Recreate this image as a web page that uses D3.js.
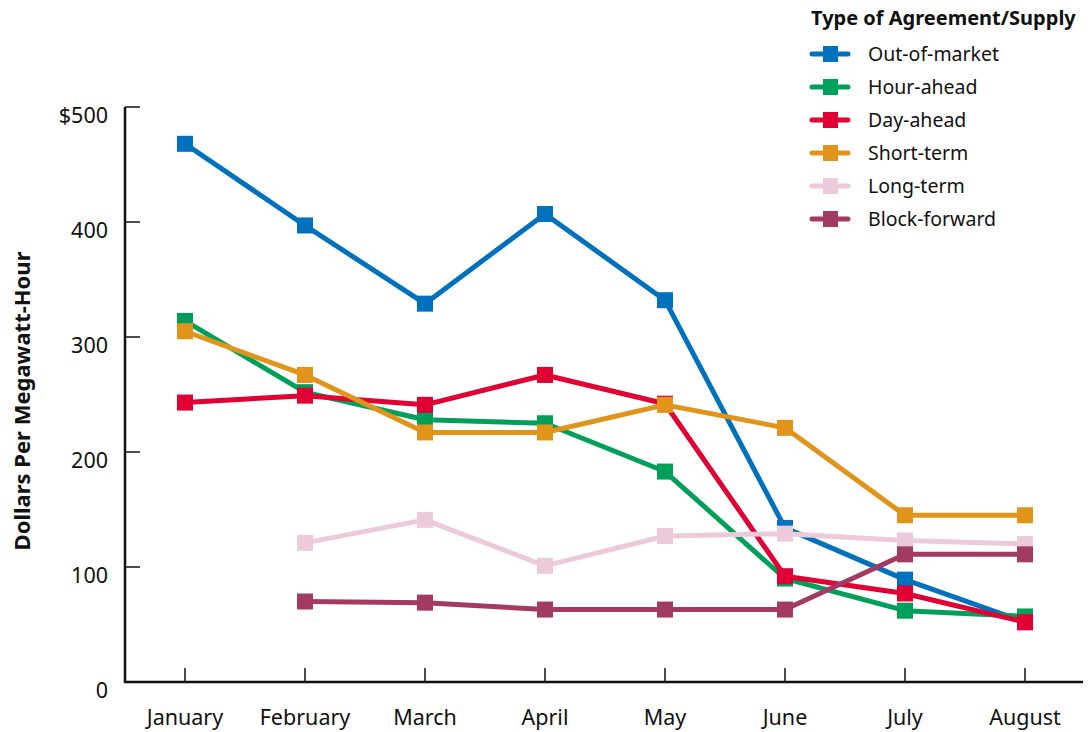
<!DOCTYPE html>
<html>
<head>
<meta charset="utf-8">
<script src="https://cdn.jsdelivr.net/npm/d3@7"></script>
<style>
  body { margin: 0; background: #fff; }
  text { font-family: 'Noto Sans', sans-serif; fill: #111; }
</style>
</head>
<body>
<div id="chart"></div>
<script>
const months = ['January', 'February', 'March', 'April', 'May', 'June', 'July', 'August']
const yTicks = [0, 100, 200, 300, 400, 500]

const outOfMarket = [468, 397, 329, 407, 332, 134, 89, 52]
const hourAhead = [314, 252, 228, 225, 183, 90, 62, 57]
const dayAhead = [243, 249, 241, 267, 242, 92, 77, 52]
const shortTerm = [305, 267, 217, 217, 241, 221, 145, 145]
const longTerm = [null, 121, 141, 101, 127, 129, 123, 120]
const blockForward = [null, 70, 69, 63, 63, 63, 111, 111]

const seriesNames = ['Out-of-market', 'Hour-ahead', 'Day-ahead', 'Short-term', 'Long-term', 'Block-forward']
const seriesValues = [outOfMarket, hourAhead, dayAhead, shortTerm, longTerm, blockForward]
const seriesColors = ['#0071bc', '#00a05a', '#e00034', '#e0941a', '#edcadb', '#a23a62']

const width = 1091
const height = 732
const svg = d3.select('#chart').append('svg').attr('width', width).attr('height', height)

const x = d3.scalePoint().domain(months).range([185, 1025])
const y = d3.scaleLinear().domain([0, 500]).range([682, 107])

// axes
const axisG = svg.append('g')
axisG.append('line').attr('x1', 125).attr('x2', 125).attr('y1', y(500)).attr('y2', y(0) + 1)
  .attr('stroke', '#111').attr('stroke-width', 2.5)
axisG.append('line').attr('x1', 124).attr('x2', 1083).attr('y1', y(0)).attr('y2', y(0))
  .attr('stroke', '#111').attr('stroke-width', 2.5)

axisG.selectAll('.ytick').data(yTicks).enter().append('line')
  .attr('x1', 125).attr('x2', 140).attr('y1', (d) => y(d)).attr('y2', (d) => y(d))
  .attr('stroke', '#111').attr('stroke-width', 1.5)
  .style('display', (d) => (d === 0 ? 'none' : null))

axisG.selectAll('.ylab').data(yTicks).enter().append('text')
  .attr('x', 108).attr('y', (d) => y(d) + 16)
  .attr('text-anchor', 'end').style('font-size', '21.5px')
  .text((d) => (d === 500 ? '$500' : d))

axisG.selectAll('.xtick').data(months).enter().append('line')
  .attr('x1', (d) => x(d)).attr('x2', (d) => x(d)).attr('y1', y(0)).attr('y2', y(0) - 14)
  .attr('stroke', '#111').attr('stroke-width', 1.5)

axisG.selectAll('.xlab').data(months).enter().append('text')
  .attr('x', (d) => x(d)).attr('y', 725)
  .attr('text-anchor', 'middle').style('font-size', '21.5px')
  .text((d) => d)

svg.append('text')
  .attr('transform', 'translate(30,401) rotate(-90)')
  .attr('text-anchor', 'middle').style('font-size', '22px').style('font-weight', 'bold')
  .text('Dollars Per Megawatt-Hour')

// series
const line = d3.line()
  .defined((d) => d.v !== null)
  .x((d) => x(d.m))
  .y((d) => y(d.v))

const sq = 16
seriesValues.forEach((vals, i) => {
  const pts = months.map((m, j) => ({ m, v: vals[j] }))
  const g = svg.append('g')
  g.append('path').attr('d', line(pts)).attr('fill', 'none')
    .attr('stroke', seriesColors[i]).attr('stroke-width', 5).attr('stroke-linejoin', 'round')
  g.selectAll('rect').data(pts.filter((d) => d.v !== null)).enter().append('rect')
    .attr('x', (d) => x(d.m) - sq / 2).attr('y', (d) => y(d.v) - sq / 2)
    .attr('width', sq).attr('height', sq).attr('fill', seriesColors[i])
})

// legend
const legend = svg.append('g')
legend.append('text').attr('x', 811).attr('y', 25)
  .style('font-size', '20px').style('font-weight', 'bold')
  .text('Type of Agreement/Supply')
seriesNames.forEach((name, i) => {
  const ly = 54 + i * 33
  legend.append('line').attr('x1', 812).attr('x2', 848).attr('y1', ly).attr('y2', ly)
    .attr('stroke', seriesColors[i]).attr('stroke-width', 5).attr('stroke-linecap', 'round')
  legend.append('rect').attr('x', 823).attr('y', ly - 8).attr('width', 15).attr('height', 16)
    .attr('fill', seriesColors[i])
  legend.append('text').attr('x', 868).attr('y', ly + 7).style('font-size', '19.5px').text(name)
})
</script>
</body>
</html>
